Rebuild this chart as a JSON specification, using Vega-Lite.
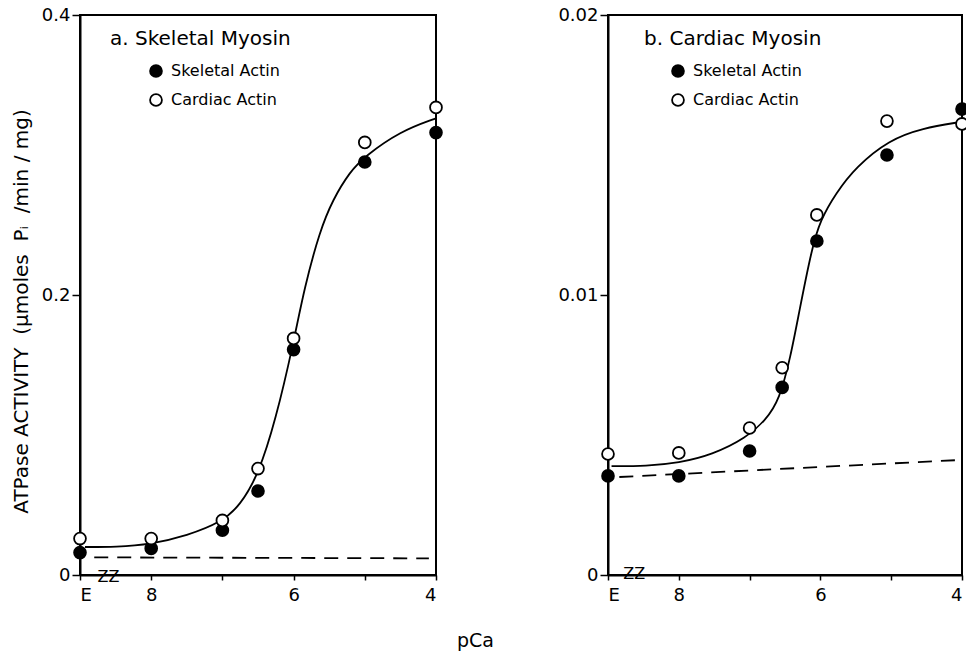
{
  "$schema": "https://vega.github.io/schema/vega-lite/v6.json",
  "padding": {"left": 10, "top": 5, "right": 0, "bottom": 5},
  "background": "white",
  "title": {"text": "pCa", "orient": "bottom", "anchor": "middle", "fontSize": 19, "fontWeight": "normal", "font": "DejaVu Sans", "color": "black", "offset": 27, "dx": -16},
  "config": {
    "font": "DejaVu Sans",
    "view": {"stroke": "black", "strokeWidth": 2},
    "axis": {"grid": false, "domainColor": "black", "domainWidth": 2, "tickColor": "black", "tickWidth": 1.5, "tickSize": 8, "labelColor": "black", "labelFont": "DejaVu Sans", "labelFontSize": 18, "titleFont": "DejaVu Sans", "titleFontSize": 20, "titleFontWeight": "normal", "titleColor": "black", "labelPadding": 2},
    "axisX": {"tickSize": 5, "labelPadding": 6},
    "legend": {"title": null, "orient": "none", "symbolType": "circle", "symbolSize": 140, "symbolStrokeColor": "black", "symbolStrokeWidth": 1.8, "labelFontSize": 16, "labelFont": "DejaVu Sans", "labelColor": "black", "labelOffset": 7, "rowPadding": 9, "padding": 0}
  },
  "resolve": {"scale": {"fill": "independent"}, "legend": {"fill": "independent"}},
  "spacing": 109,
  "hconcat": [
    {
      "width": 356,
      "height": 560,
      "title": {"text": "a. Skeletal  Myosin", "anchor": "start", "frame": "group", "offset": -43, "dx": 30, "fontSize": 20, "fontWeight": "normal", "font": "DejaVu Sans", "color": "black"},
      "layer": [
        {
          "data": {"values": [
            {"pCa": 8.93, "activity": 0.020},
            {"pCa": 8.5, "activity": 0.020},
            {"pCa": 8.0, "activity": 0.022},
            {"pCa": 7.5, "activity": 0.028},
            {"pCa": 7.0, "activity": 0.038},
            {"pCa": 6.75, "activity": 0.050},
            {"pCa": 6.5, "activity": 0.071},
            {"pCa": 6.25, "activity": 0.111},
            {"pCa": 6.0, "activity": 0.166},
            {"pCa": 5.85, "activity": 0.205},
            {"pCa": 5.63, "activity": 0.246},
            {"pCa": 5.45, "activity": 0.268},
            {"pCa": 5.21, "activity": 0.288},
            {"pCa": 5.0, "activity": 0.299},
            {"pCa": 4.5, "activity": 0.317},
            {"pCa": 4.01, "activity": 0.326}
          ]},
          "mark": {"type": "line", "color": "black", "strokeWidth": 1.8, "interpolate": "basis"},
          "encoding": {
            "x": {"field": "pCa", "type": "quantitative"},
            "y": {"field": "activity", "type": "quantitative"}
          }
        },
        {
          "data": {"values": [
            {"pCa": 8.8, "activity": 0.0126},
            {"pCa": 4.1, "activity": 0.0119}
          ]},
          "mark": {"type": "line", "color": "black", "strokeWidth": 1.8, "strokeDash": [14, 9]},
          "encoding": {
            "x": {"field": "pCa", "type": "quantitative"},
            "y": {"field": "activity", "type": "quantitative"}
          }
        },
        {
          "data": {"values": [{"pCa": 8.6, "activity": 0, "label": "ZZ"}]},
          "mark": {"type": "text", "fontSize": 16, "font": "DejaVu Sans", "baseline": "middle", "dy": 2, "color": "black"},
          "encoding": {
            "x": {"field": "pCa", "type": "quantitative"},
            "y": {"field": "activity", "type": "quantitative"},
            "text": {"field": "label"}
          }
        },
        {
          "data": {"values": [
            {"pCa": 9, "activity": 0.016, "actin": "Skeletal Actin"},
            {"pCa": 8, "activity": 0.019, "actin": "Skeletal Actin"},
            {"pCa": 7, "activity": 0.032, "actin": "Skeletal Actin"},
            {"pCa": 6.5, "activity": 0.060, "actin": "Skeletal Actin"},
            {"pCa": 6, "activity": 0.161, "actin": "Skeletal Actin"},
            {"pCa": 5, "activity": 0.295, "actin": "Skeletal Actin"},
            {"pCa": 4, "activity": 0.316, "actin": "Skeletal Actin"},
            {"pCa": 9, "activity": 0.026, "actin": "Cardiac Actin"},
            {"pCa": 8, "activity": 0.026, "actin": "Cardiac Actin"},
            {"pCa": 7, "activity": 0.039, "actin": "Cardiac Actin"},
            {"pCa": 6.5, "activity": 0.076, "actin": "Cardiac Actin"},
            {"pCa": 6, "activity": 0.169, "actin": "Cardiac Actin"},
            {"pCa": 5, "activity": 0.309, "actin": "Cardiac Actin"},
            {"pCa": 4, "activity": 0.334, "actin": "Cardiac Actin"}
          ]},
          "mark": {"type": "circle", "size": 140, "stroke": "black", "strokeWidth": 1.8, "opacity": 1},
          "encoding": {
            "x": {"field": "pCa", "type": "quantitative", "scale": {"domain": [4, 9], "reverse": true, "nice": false, "zero": false}, "axis": {"values": [9, 8, 7, 6, 5, 4], "format": ".0f", "labelExpr": "datum.value == 9 ? 'E' : (datum.value == 7 || datum.value == 5) ? '' : datum.label", "title": null}},
            "y": {"field": "activity", "type": "quantitative", "scale": {"domain": [0, 0.4], "nice": false}, "axis": {"values": [0, 0.2, 0.4], "format": ".1f", "labelExpr": "datum.value == 0 ? '0' : datum.label", "title": "ATPase ACTIVITY\u00a0\u00a0(μmoles\u00a0\u00a0Pᵢ\u00a0\u00a0/min / mg)", "titlePadding": 10, "titleY": 296}},
            "fill": {"field": "actin", "type": "nominal", "scale": {"domain": ["Skeletal Actin", "Cardiac Actin"], "range": ["black", "white"]}, "legend": {"legendX": 68, "legendY": 48}}
          }
        }
      ]
    },
    {
      "width": 354,
      "height": 560,
      "title": {"text": "b. Cardiac  Myosin", "anchor": "start", "frame": "group", "offset": -43, "dx": 36, "fontSize": 20, "fontWeight": "normal", "font": "DejaVu Sans", "color": "black"},
      "layer": [
        {
          "data": {"values": [
            {"pCa": 8.95, "activity": 0.00389},
            {"pCa": 8.46, "activity": 0.00389},
            {"pCa": 8.0, "activity": 0.0040},
            {"pCa": 7.53, "activity": 0.00429},
            {"pCa": 7.05, "activity": 0.00489},
            {"pCa": 6.77, "activity": 0.00554},
            {"pCa": 6.58, "activity": 0.00625},
            {"pCa": 6.42, "activity": 0.0078},
            {"pCa": 6.3, "activity": 0.0094},
            {"pCa": 6.12, "activity": 0.01168},
            {"pCa": 6.0, "activity": 0.01268},
            {"pCa": 5.78, "activity": 0.01364},
            {"pCa": 5.5, "activity": 0.01457},
            {"pCa": 5.03, "activity": 0.01554},
            {"pCa": 4.56, "activity": 0.01596},
            {"pCa": 4.02, "activity": 0.01618}
          ]},
          "mark": {"type": "line", "color": "black", "strokeWidth": 1.8, "interpolate": "basis"},
          "encoding": {
            "x": {"field": "pCa", "type": "quantitative"},
            "y": {"field": "activity", "type": "quantitative"}
          }
        },
        {
          "data": {"values": [
            {"pCa": 8.84, "activity": 0.0035},
            {"pCa": 4.01, "activity": 0.00411}
          ]},
          "mark": {"type": "line", "color": "black", "strokeWidth": 1.8, "strokeDash": [14, 9]},
          "encoding": {
            "x": {"field": "pCa", "type": "quantitative"},
            "y": {"field": "activity", "type": "quantitative"}
          }
        },
        {
          "data": {"values": [{"pCa": 8.63, "activity": 0, "label": "ZZ"}]},
          "mark": {"type": "text", "fontSize": 16, "font": "DejaVu Sans", "baseline": "middle", "dy": -1, "color": "black"},
          "encoding": {
            "x": {"field": "pCa", "type": "quantitative"},
            "y": {"field": "activity", "type": "quantitative"},
            "text": {"field": "label"}
          }
        },
        {
          "data": {"values": [
            {"pCa": 9, "activity": 0.00354, "actin": "Skeletal Actin"},
            {"pCa": 8, "activity": 0.00354, "actin": "Skeletal Actin"},
            {"pCa": 7, "activity": 0.00443, "actin": "Skeletal Actin"},
            {"pCa": 6.54, "activity": 0.0067, "actin": "Skeletal Actin"},
            {"pCa": 6.05, "activity": 0.01193, "actin": "Skeletal Actin"},
            {"pCa": 5.06, "activity": 0.0150, "actin": "Skeletal Actin"},
            {"pCa": 4, "activity": 0.01664, "actin": "Skeletal Actin"},
            {"pCa": 9, "activity": 0.00432, "actin": "Cardiac Actin"},
            {"pCa": 8, "activity": 0.00436, "actin": "Cardiac Actin"},
            {"pCa": 7, "activity": 0.00525, "actin": "Cardiac Actin"},
            {"pCa": 6.54, "activity": 0.0074, "actin": "Cardiac Actin"},
            {"pCa": 6.05, "activity": 0.01286, "actin": "Cardiac Actin"},
            {"pCa": 5.06, "activity": 0.01621, "actin": "Cardiac Actin"},
            {"pCa": 4, "activity": 0.01611, "actin": "Cardiac Actin"}
          ]},
          "mark": {"type": "circle", "size": 140, "stroke": "black", "strokeWidth": 1.8, "opacity": 1},
          "encoding": {
            "x": {"field": "pCa", "type": "quantitative", "scale": {"domain": [4, 9], "reverse": true, "nice": false, "zero": false}, "axis": {"values": [9, 8, 7, 6, 5, 4], "format": ".0f", "labelExpr": "datum.value == 9 ? 'E' : (datum.value == 7 || datum.value == 5) ? '' : datum.label", "title": null}},
            "y": {"field": "activity", "type": "quantitative", "scale": {"domain": [0, 0.02], "nice": false}, "axis": {"values": [0, 0.01, 0.02], "format": ".2f", "labelExpr": "datum.value == 0 ? '0' : datum.label", "title": null}},
            "fill": {"field": "actin", "type": "nominal", "scale": {"domain": ["Skeletal Actin", "Cardiac Actin"], "range": ["black", "white"]}, "legend": {"legendX": 62, "legendY": 48}}
          }
        }
      ]
    }
  ]
}
